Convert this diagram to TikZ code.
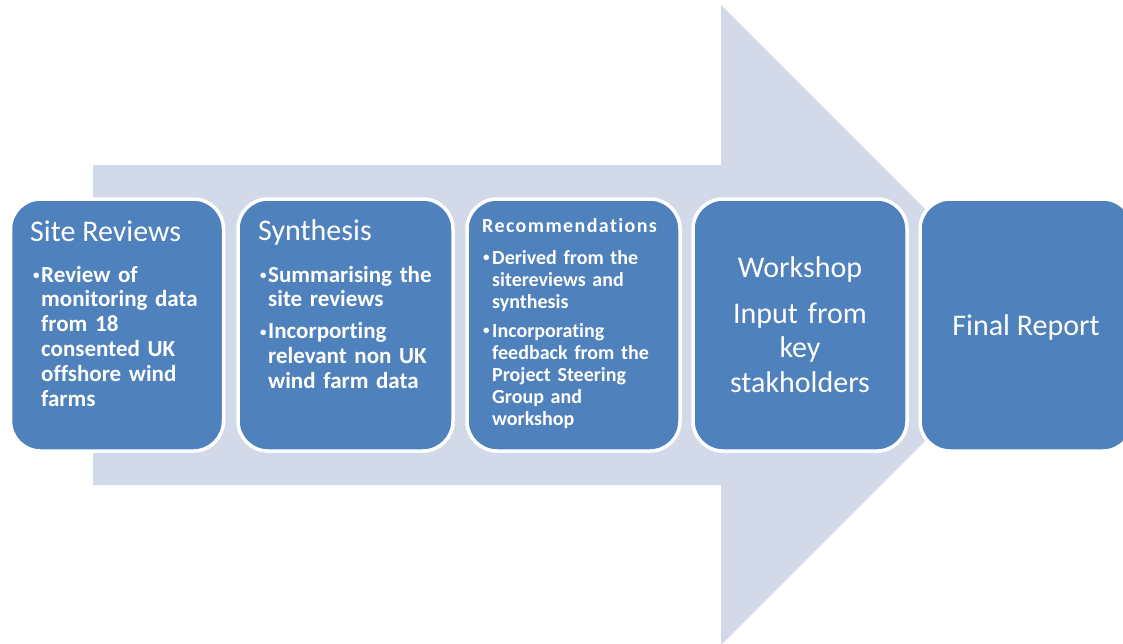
\documentclass[tikz,border=0pt]{standalone}
\usepackage{fontspec}
\setmainfont{Carlito}[Ligatures=NoCommon]
\definecolor{boxblue}{HTML}{4F81BD}
\definecolor{arrowgray}{HTML}{D2D9E8}
\newcommand\smallbullet{\raisebox{2.2pt}{\fontsize{13}{13}\selectfont\textbullet}}
\newcommand\bitem[2]{\noindent\makebox[#1][l]{\smallbullet}\parbox[t]{175pt}{\raggedright\strut #2\strut}\par}
\newcommand\bgap{\vspace{6pt}}
\tikzset{
  stagebox/.style={draw=white, line width=3.5pt, fill=boxblue, rounded corners=30pt,
    minimum width=213pt, minimum height=252pt, inner sep=0pt},
  titletext/.style={text=white, inner sep=0pt, font=\fontsize{30}{34}\selectfont},
  listbig/.style={text=white, inner sep=0pt, text width=190pt, align=left,
    font=\fontsize{23}{24.8}\selectfont\bfseries},
  listsmall/.style={text=white, inner sep=0pt, text width=190pt, align=left,
    font=\fontsize{20}{22}\selectfont\bfseries},
}
\begin{document}
\begin{tikzpicture}[x=1pt,y=-1pt]
\useasboundingbox (0,0) rectangle (1123,643);
% background arrow
\fill[arrowgray] (93,165) -- (721,165) -- (721,5) -- (1041,325) -- (721,645) -- (721,485) -- (93,485) -- cycle;
% stage boxes
\node[stagebox] (b1) at (117,325) {};
\node[stagebox, minimum width=215pt] (b2) at (345.5,325) {};
\node[stagebox] (b3) at (573.5,325) {};
\node[stagebox, minimum width=214pt] (b4) at (800,325) {};
\node[stagebox] (b5) at (1026.5,325) {};
% box 1
\node[titletext, anchor=base west] (t1) at (30,241) {Site Reviews};
\node[listbig, anchor=base west] (l1) at (33,282)
  {\bitem{8pt}{Review of\\monitoring data\\from 18\\consented UK\\offshore wind\\farms}};
% box 2
\node[titletext, anchor=base west] (t2) at (258,240) {Synthesis};
\node[listbig, anchor=base west] (l2) at (260,282)
  {\bitem{8pt}{Summarising the\\site reviews}\bgap\bitem{8pt}{Incorporting\\relevant non UK\\wind farm data}};
% box 3
\node[text=white, inner sep=0pt, anchor=base west, font=\fontsize{20}{22}\selectfont\bfseries\addfontfeature{LetterSpace=7}] (t3) at (482,232) {Recommendations};
\node[listsmall, anchor=base west] (l3) at (483,264)
  {\bitem{9pt}{Derived from the\\sitereviews and\\synthesis}\bgap\bitem{9pt}{Incorporating\\feedback from the\\Project Steering\\Group and\\workshop}};
% box 4
\node[titletext, anchor=base, text width=200pt, align=center,
  font=\fontsize{30}{34.5}\selectfont\setlength\parskip{11.5pt}] (t4) at (800,277)
  {Workshop\par Input from\\key\\stakholders};
% box 5
\node[titletext, anchor=base] (t5) at (1026,335) {Final Report};
\end{tikzpicture}
\end{document}
